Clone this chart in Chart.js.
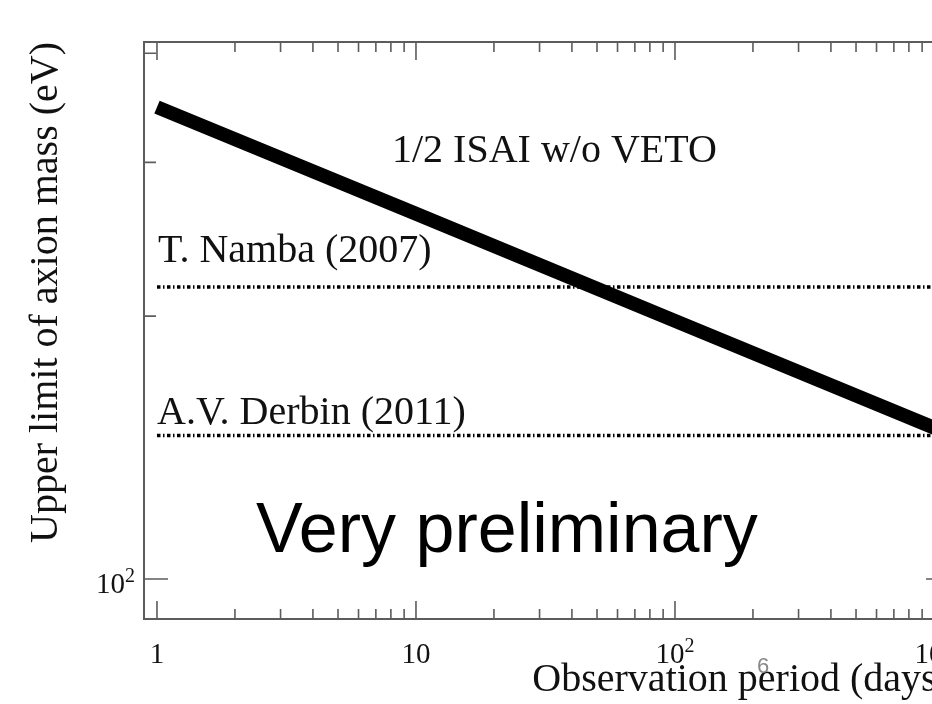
<!DOCTYPE html>
<html>
<head>
<meta charset="utf-8">
<script src="https://cdn.jsdelivr.net/npm/chart.js@4.4.1/dist/chart.umd.min.js"></script>
<style>
  html, body { margin: 0; padding: 0; background: #fff; overflow: hidden; }
  #wrap { width: 932px; height: 704px; overflow: hidden; position: relative; }
  canvas { display: block; }
</style>
</head>
<body>
<div id="wrap"><canvas id="chart" width="966" height="704"></canvas></div>
<script>
// observation period (days) and the upper limit (eV)
const days = [1, 10, 100, 1000, 1200];
const isaiLimit = [347, 262, 197.5, 149, 146.3];

// earlier limits, drawn as flat dotted lines
const limitDays = [1, 1200];
const nambaLimit = 216;
const derbinLimit = 146;

// axis ticks: [base, exponent] for the labelled ones
const xMajor = [1, 10, 100, 1000];
const xMajorLabels = [["1", ""], ["10", ""], ["10", "2"], ["10", "3"]];
const yMajor = [100];
const yMajorLabels = [["10", "2"]];
const yMinor = [200, 300, 400];

const xMinor = [];
[1, 10, 100].forEach((d) => {
  for (let k = 2; k <= 9; k++) xMinor.push(k * d);
});

const serif = '"Liberation Serif", "Times New Roman", serif';
const sans = '"Liberation Sans", Arial, sans-serif';

function drawPower(ctx, label, x, baseline, align) {
  const [base, exp] = label;
  ctx.font = "29px " + serif;
  const wb = ctx.measureText(base).width;
  ctx.font = "20px " + serif;
  const we = exp ? ctx.measureText(exp).width : 0;
  const total = wb + we;
  let left = align === "right" ? x - total : x - total / 2;
  ctx.textAlign = "left";
  ctx.font = "29px " + serif;
  ctx.fillText(base, left, baseline);
  if (exp) {
    ctx.font = "20px " + serif;
    ctx.fillText(exp, left + wb, baseline - 11);
  }
}

const frameTicks = {
  id: "frameTicks",
  afterDraw(chart) {
    const { ctx, chartArea: a } = chart;
    const x = chart.scales.x;
    const y = chart.scales.y;
    ctx.save();
    ctx.strokeStyle = "#5c5c5c";
    ctx.lineWidth = 2;
    ctx.strokeRect(a.left, a.top, a.right - a.left, a.bottom - a.top);

    ctx.lineWidth = 1.6;
    ctx.beginPath();
    x.ticks.forEach((t) => {
      const px = x.getPixelForValue(t.value);
      const len = xMajor.includes(t.value) ? 18 : 10;
      ctx.moveTo(px, a.bottom);
      ctx.lineTo(px, a.bottom - len);
      ctx.moveTo(px, a.top);
      ctx.lineTo(px, a.top + len);
    });
    y.ticks.forEach((t) => {
      const py = y.getPixelForValue(t.value);
      const len = yMajor.includes(t.value) ? 24 : 12;
      ctx.moveTo(a.left, py);
      ctx.lineTo(a.left + len, py);
      ctx.moveTo(a.right, py);
      ctx.lineTo(a.right - len, py);
    });
    ctx.stroke();

    // tick labels with real superscripts
    ctx.fillStyle = "#111";
    ctx.textBaseline = "alphabetic";
    xMajor.forEach((v, i) => {
      drawPower(ctx, xMajorLabels[i], x.getPixelForValue(v), a.bottom + 44, "center");
    });
    yMajor.forEach((v, i) => {
      drawPower(ctx, yMajorLabels[i], a.left - 9, y.getPixelForValue(v) + 14, "right");
    });
    ctx.restore();
  },
};

const notes = {
  id: "notes",
  afterDatasetsDraw(chart) {
    const ctx = chart.ctx;
    ctx.save();
    ctx.fillStyle = "#111";
    ctx.textAlign = "left";
    ctx.textBaseline = "alphabetic";
    ctx.font = "40px " + serif;
    ctx.fillText("1/2 ISAI w/o VETO", 392, 162);
    ctx.fillText("T. Namba (2007)", 158, 262);
    ctx.fillText("A.V. Derbin (2011)", 157, 424);
    ctx.fillStyle = "#000";
    ctx.font = "70px " + sans;
    ctx.fillText("Very preliminary", 256, 552);
    ctx.fillStyle = "#888";
    ctx.font = "22px " + sans;
    ctx.fillText("6", 757, 673);
    ctx.restore();
  },
};

const ctx = document.getElementById("chart").getContext("2d");

new Chart(ctx, {
  type: "line",
  data: {
    datasets: [
      {
        label: "1/2 ISAI w/o VETO",
        data: days.map((d, i) => ({ x: d, y: isaiLimit[i] })),
        borderColor: "#000",
        borderWidth: 14,
        borderCapStyle: "butt",
        pointRadius: 0,
        clip: 0,
      },
      {
        label: "T. Namba (2007)",
        data: limitDays.map((d) => ({ x: d, y: nambaLimit })),
        borderColor: "#000",
        borderWidth: 3.5,
        borderDash: [3.5, 2.5, 1.5, 2.5],
        pointRadius: 0,
        clip: 0,
      },
      {
        label: "A.V. Derbin (2011)",
        data: limitDays.map((d) => ({ x: d, y: derbinLimit })),
        borderColor: "#000",
        borderWidth: 3.5,
        borderDash: [3.5, 2.5, 1.5, 2.5],
        pointRadius: 0,
        clip: 0,
      },
    ],
  },
  options: {
    responsive: false,
    animation: false,
    layout: { padding: { top: 42, right: 16, bottom: 0, left: 0 } },
    plugins: {
      legend: { display: false },
      tooltip: { enabled: false },
    },
    scales: {
      x: {
        type: "logarithmic",
        min: 0.891,
        max: 1153,
        grid: { display: false, drawTicks: false },
        border: { display: false },
        afterBuildTicks: (scale) => {
          scale.ticks = xMajor.concat(xMinor).sort((a, b) => a - b).map((v) => ({ value: v }));
        },
        afterFit: (scale) => {
          scale.height = 85;
        },
        ticks: { display: false, autoSkip: false, maxRotation: 0 },
        title: {
          display: true,
          text: "Observation period (days)",
          align: "end",
          color: "#111",
          font: { family: serif, size: 40 },
          padding: { top: 0, bottom: 0 },
        },
      },
      y: {
        type: "logarithmic",
        min: 90,
        max: 412,
        grid: { display: false, drawTicks: false },
        border: { display: false },
        afterBuildTicks: (scale) => {
          scale.ticks = yMajor.concat(yMinor).map((v) => ({ value: v }));
        },
        afterFit: (scale) => {
          scale.width = 144;
        },
        ticks: { display: false, autoSkip: false },
        title: {
          display: true,
          text: "Upper limit of axion mass (eV)",
          align: "end",
          color: "#111",
          font: { family: serif, size: 40 },
          padding: { top: 22, bottom: 0 },
        },
      },
    },
  },
  plugins: [notes, frameTicks],
});
</script>
</body>
</html>
